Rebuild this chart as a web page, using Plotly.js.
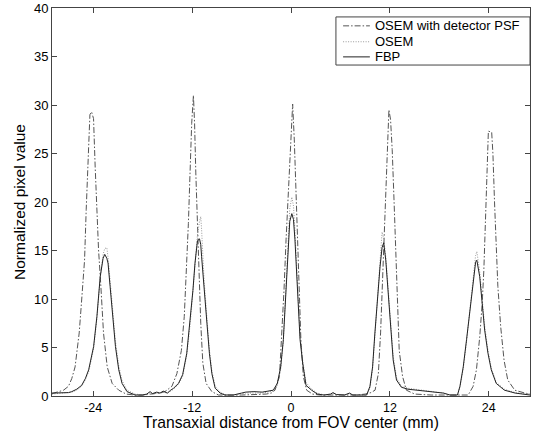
<!DOCTYPE html>
<html>
<head>
<meta charset="utf-8">
<script src="https://cdn.plot.ly/plotly-3.0.1.min.js"></script>
<style>html,body{margin:0;padding:0;background:#fff;}#chart{width:535px;height:431px;}</style>
</head>
<body>
<div id="chart"></div>
<script>
// Shared sample positions (mm) for FBP and OSEM profiles
var xProfile = [-29.0,-28.2,-27.8,-27.0,-26.6,-26.0,-25.4,-24.95,-24.55,-23.95,-23.55,-23.15,-22.8,-22.6,-22.35,-22.2,-21.95,-21.65,-21.3,-20.9,-20.5,-19.9,-18.9,-18.0,-17.5,-17.1,-16.8,-16.3,-15.9,-15.5,-15.0,-14.6,-14.25,-13.65,-13.15,-12.65,-12.25,-11.9,-11.65,-11.35,-11.1,-10.95,-10.85,-10.55,-10.2,-9.9,-9.6,-9.2,-8.6,-8.0,-7.0,-6.0,-5.5,-4.5,-3.5,-2.8,-2.15,-1.66,-1.25,-0.93,-0.6,-0.33,-0.15,0.1,0.3,0.48,0.77,1.1,1.42,1.82,2.5,3.2,4.0,4.8,5.1,5.5,6.5,7.1,7.5,8.5,9.18,9.58,9.9,10.18,10.46,10.8,11.05,11.25,11.5,11.8,12.08,12.4,12.8,13.4,14.2,15.2,16.5,17.5,18.5,19.3,20.2,20.5,20.9,21.3,21.7,22.1,22.4,22.55,22.9,23.2,23.5,23.9,24.3,24.9,25.9,27.2,28.0,29.0];

var fbpValues = [0.3,0.3,0.3,0.35,0.45,0.7,1.1,1.8,2.7,5.1,8.2,12.3,14.2,14.6,14.2,13.7,11.3,8.2,5.1,2.7,1.3,0.45,0.1,0.1,0.2,0.45,0.25,0.4,0.3,0.5,0.3,0.6,0.8,1.3,2.2,4.4,7.5,10.9,13.7,16.0,16.2,15.6,14.4,10.9,7.5,4.4,2.3,0.8,0.3,0.1,0.1,0.3,0.4,0.45,0.4,0.5,0.6,1.3,3.0,5.8,10.9,16.1,18.0,18.8,18.2,16.1,10.9,5.8,3.4,1.1,0.6,0.2,0.1,0.2,0.35,0.15,0.1,0.3,0.1,0.1,0.1,1.0,3.0,6.5,9.9,13.3,15.3,15.8,14.0,10.6,7.1,3.7,1.65,0.9,0.7,0.6,0.5,0.4,0.3,0.1,0.1,1.0,3.0,5.8,8.9,12.0,13.8,14.0,12.3,9.55,6.8,4.4,2.7,1.3,0.6,0.3,0.2,0.1];

var osemValues = [0.2,0.25,0.25,0.3,0.4,0.6,1.0,1.7,2.5,4.9,8.0,12.2,14.6,15.2,15.3,14.3,11.9,8.8,5.6,3.1,1.6,0.6,0.2,0.1,0.15,0.35,0.2,0.3,0.25,0.4,0.3,0.5,0.7,1.2,2.0,4.2,7.3,10.8,13.8,16.6,18.0,18.5,17.2,12.0,8.0,4.8,2.6,1.0,0.4,0.15,0.1,0.2,0.3,0.3,0.3,0.4,0.5,1.1,2.8,5.6,11.0,16.8,19.3,20.5,19.6,17.0,11.5,6.2,3.6,1.4,0.7,0.3,0.1,0.15,0.3,0.15,0.1,0.25,0.1,0.1,0.1,0.8,2.8,6.2,9.9,14.2,16.9,16.2,14.3,11.0,7.6,4.1,1.9,1.0,0.8,0.7,0.55,0.45,0.3,0.1,0.1,0.9,2.8,5.6,8.8,12.2,14.5,14.9,12.8,10.0,7.2,4.7,2.9,1.4,0.7,0.35,0.3,0.2];

var xPSF = [-29.0,-28.2,-27.6,-27.0,-26.6,-26.2,-25.7,-25.4,-25.05,-24.85,-24.65,-24.4,-24.2,-23.96,-23.76,-23.55,-23.35,-23.07,-22.75,-22.3,-21.7,-20.9,-20.0,-19.0,-18.0,-17.0,-16.0,-15.3,-14.45,-13.85,-13.3,-12.95,-12.7,-12.45,-12.25,-12.05,-11.84,-11.7,-11.55,-11.35,-11.15,-10.95,-10.7,-10.3,-9.6,-8.8,-6.0,-4.0,-3.0,-2.4,-1.94,-1.4,-1.13,-0.85,-0.6,-0.33,-0.04,0.2,0.4,0.6,0.8,1.0,1.2,1.5,1.9,2.6,3.5,6.0,8.0,9.0,9.7,10.2,10.6,10.87,11.1,11.3,11.5,11.72,11.88,12.08,12.28,12.5,12.73,12.9,13.13,13.54,14.0,15.0,17.0,19.0,20.5,21.5,22.1,22.5,22.9,23.2,23.4,23.6,23.8,23.95,24.35,24.5,24.7,24.9,25.1,25.45,25.85,26.3,27.15,28.4,29.0];

var psfValues = [0.25,0.45,0.6,1.0,1.8,3.0,6.5,9.9,14.0,19.2,23.6,29.0,29.3,28.6,23.6,19.2,15.05,11.3,6.5,3.0,1.3,0.6,0.2,0.1,0.1,0.2,0.3,0.45,1.0,2.3,4.7,8.2,12.65,17.8,23.0,28.1,31.0,28.1,23.0,17.8,12.65,7.5,3.4,1.3,0.45,0.1,0.1,0.15,0.2,0.3,0.6,2.0,5.8,10.9,16.1,21.2,26.4,30.1,26.4,21.2,16.1,10.9,5.8,2.0,0.6,0.2,0.1,0.1,0.1,0.2,0.35,0.6,2.3,6.5,11.6,16.8,21.9,27.1,29.5,28.5,25.4,20.2,15.05,9.9,4.7,2.0,0.6,0.2,0.1,0.1,0.1,0.1,1.0,2.7,6.1,9.55,13.0,18.1,23.3,27.3,27.2,25.0,19.9,14.7,11.3,7.1,3.7,1.65,0.6,0.3,0.2];

var seriesNames = ['OSEM with detector PSF', 'OSEM', 'FBP'];
var xTicks = [-24, -12, 0, 12, 24];
var yTicks = [0, 5, 10, 15, 20, 25, 30, 35, 40];

var font = 'Arial, "Liberation Sans", sans-serif';
var seriesColors = ['#555555', '#9a9a9a', '#222222'];
var seriesDash = ['6px,2px,1.5px,2px', '1px,1.5px', 'solid'];

var traces = [
  {x: xPSF, y: psfValues, name: seriesNames[0], type: 'scatter', mode: 'lines',
   line: {color: seriesColors[0], width: 1, dash: seriesDash[0]}},
  {x: xProfile, y: osemValues, name: seriesNames[1], type: 'scatter', mode: 'lines',
   line: {color: seriesColors[1], width: 1, dash: seriesDash[1]}},
  {x: xProfile, y: fbpValues, name: seriesNames[2], type: 'scatter', mode: 'lines',
   line: {color: seriesColors[2], width: 1, dash: seriesDash[2]}}
];

// Legend box drawn in the plot's paper coordinates (MATLAB-style compact legend)
var legendRows = [0.954, 0.913, 0.874];
var shapes = [{type: 'rect', xref: 'paper', yref: 'paper', x0: 0.594, x1: 1.0, y0: 0.853, y1: 0.977,
               line: {color: '#444', width: 1}, fillcolor: '#fff', layer: 'above'}];
var annotations = [];
for (var i = 0; i < seriesNames.length; i++) {
  shapes.push({type: 'line', xref: 'paper', yref: 'paper', x0: 0.609, x1: 0.665,
               y0: legendRows[i], y1: legendRows[i], layer: 'above',
               line: {color: seriesColors[i], width: 1, dash: seriesDash[i]}});
  annotations.push({xref: 'paper', yref: 'paper', x: 0.672, y: legendRows[i],
                    xanchor: 'left', yanchor: 'middle', showarrow: false, text: seriesNames[i],
                    font: {family: font, size: 13, color: '#000'}});
}

var axisCommon = {
  showgrid: false, zeroline: false, showline: true, linecolor: '#444', linewidth: 1,
  mirror: 'ticks', ticks: 'inside', ticklen: 5, tickcolor: '#444',
  tickfont: {family: font, size: 13, color: '#000'}
};

var layout = {
  width: 535, height: 431,
  margin: {l: 52, r: 5, t: 8, b: 35},
  paper_bgcolor: '#fff', plot_bgcolor: '#fff',
  showlegend: false,
  shapes: shapes,
  annotations: annotations,
  xaxis: Object.assign({}, axisCommon, {
    range: [-29, 29], tickvals: xTicks, ticktext: xTicks.map(String),
    tickfont: {family: font, size: 12.5, color: '#000'},
    title: {text: 'Transaxial distance from FOV center (mm)', font: {family: font, size: 15.7, color: '#000'}, standoff: 3}
  }),
  yaxis: Object.assign({}, axisCommon, {
    range: [0, 40], tickvals: yTicks, ticktext: yTicks.map(String),
    title: {text: 'Normalized pixel value', font: {family: font, size: 15.5, color: '#000'}, standoff: 4}
  })
};

Plotly.newPlot('chart', traces, layout, {displayModeBar: false, staticPlot: true});
</script>
</body>
</html>
